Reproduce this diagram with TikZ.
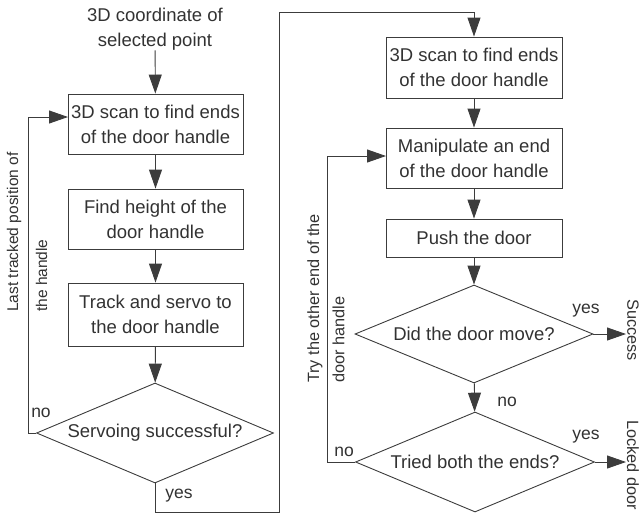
\documentclass[tikz,border=0pt]{standalone}
\usepackage{fontspec}
\setmainfont{Liberation Sans}
\usetikzlibrary{shapes.geometric,arrows.meta}
\definecolor{linec}{RGB}{60,60,60}
\definecolor{textc}{RGB}{50,50,50}
\begin{document}
\begin{tikzpicture}[x=1pt,y=-1pt,
  box/.style={draw=linec, line width=0.9pt, minimum width=175pt, inner sep=0pt, align=center, text=textc, font=\fontsize{18.5}{25}\selectfont},
  dia/.style={draw=linec, line width=0.9pt, diamond, shape aspect=2.4, inner sep=0pt, text=textc, font=\fontsize{18.5}{25}\selectfont},
  arr/.style={draw=linec, line width=0.9pt, -{Triangle[length=19pt,width=13pt]}},
  lbl/.style={text=textc, font=\fontsize{17.5}{20}\selectfont, inner sep=0pt},
  rot/.style={text=textc, font=\fontsize{16.3}{20}\selectfont, inner sep=0pt}
]
\useasboundingbox (0,0) rectangle (642,515);

% left column
\node[text=textc, font=\fontsize{18.5}{25}\selectfont, align=center, inner sep=0pt] (start) at (155,29) {3D coordinate of\\selected point};
\node[box, minimum height=60pt] (b1) at (155.5,124) {3D scan to find ends\\of the door handle};
\node[box, minimum height=60pt] (b2) at (155.5,219) {Find height of the\\door handle};
\node[box, minimum height=63pt] (b3) at (155.5,314.5) {Track and servo to\\the door handle};
\node[dia, minimum width=237pt, minimum height=100pt] (d1) at (155,433) {Servoing successful?};

% right column
\node[box, minimum width=176pt, minimum height=61pt] (b4) at (474,67.5) {3D scan to find ends\\of the door handle};
\node[box, minimum width=176pt, minimum height=60pt] (b5) at (474,158) {Manipulate an end\\of the door handle};
\node[box, minimum width=176pt, minimum height=38pt] (b6) at (474,238) {Push the door};
\node[dia, minimum width=238pt, minimum height=98pt] (d2) at (474,334) {Did the door move?};
\node[dia, minimum width=239pt, minimum height=100pt] (d3) at (475,462) {Tried both the ends?};

% outcomes
\node[rot, rotate=-90] (succ) at (633,330) {Success};
\node[rot, rotate=-90, anchor=west] (lock) at (633,420) {Locked door};

% coordinates
\coordinate (l1) at (28,433);
\coordinate (b1in) at (68,117);
\coordinate (y1) at (155,512);
\coordinate (y2) at (279,512);
\coordinate (y3) at (279,12);
\coordinate (y4) at (474,12);
\coordinate (r1) at (327,462);
\coordinate (b5in) at (386,156);
\coordinate (s1) at (626,334);
\coordinate (k1) at (626,462);

% connectors
\draw[arr] (start) -- (b1);
\draw[arr] (b1) -- (b2);
\draw[arr] (b2) -- (b3);
\draw[arr] (b3) -- (d1);
\draw[arr] (d1.west) -- (l1) |- (b1in);
\draw[arr] (d1.south) -- (y1) -- (y2) -- (y3) -- (y4) -- (b4);
\draw[arr] (b4) -- (b5);
\draw[arr] (b5) -- (b6);
\draw[arr] (b6) -- (d2);
\draw[arr] (d2) -- (d3);
\draw[arr] (d2.east) -- (s1);
\draw[arr] (d3.east) -- (k1);
\draw[arr] (d3.west) -- (r1) |- (b5in);

% labels
\node[lbl] (n1) at (41,413) {no};
\node[lbl] (ye1) at (179,496) {yes};
\node[lbl] (ye2) at (586,311) {yes};
\node[lbl] (n2) at (507,402) {no};
\node[lbl] (ye3) at (586,437) {yes};
\node[lbl] (n3) at (344,452) {no};

% rotated side notes
\node[rot, rotate=90, anchor=west, font=\fontsize{15.5}{20}\selectfont] (t1) at (14,312) {Last tracked position of};
\node[rot, rotate=90, anchor=west, font=\fontsize{15.5}{20}\selectfont] (t2) at (41.5,312) {the handle};
\node[rot, rotate=90, anchor=west] (t3) at (315,383) {Try the other end of the};
\node[rot, rotate=90, anchor=west] (t4) at (338.5,383) {door handle};
\end{tikzpicture}
\end{document}
